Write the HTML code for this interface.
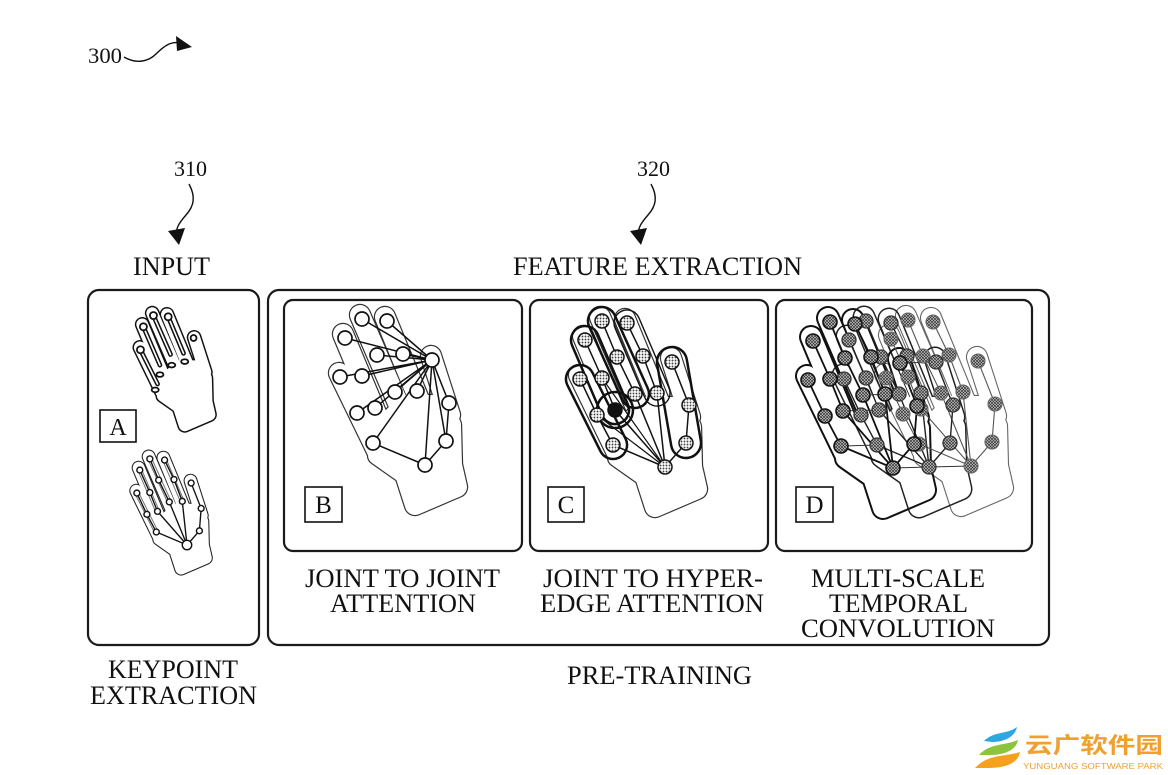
<!DOCTYPE html>
<html><head><meta charset="utf-8">
<style>
html,body{margin:0;padding:0;background:#fff;}
svg{display:block;}
text{font-family:"Liberation Serif",serif;fill:#111;}
</style></head>
<body>
<svg width="1168" height="775" viewBox="0 0 1168 775" xmlns="http://www.w3.org/2000/svg">
<defs>
  <g id="hs" stroke-linecap="round" stroke-linejoin="round">
    <polygon points="-10,40 32,22 27,0 26,-40 15,-60 -20,-60 -45,-35 -47,-10 -20,9"/>
    <line x1="25" y1="-50" x2="6" y2="-109"/>
    <line x1="-3" y1="-58" x2="-40" y2="-148"/>
    <line x1="-24" y1="-55" x2="-65" y2="-150"/>
    <line x1="-44" y1="-40" x2="-82" y2="-131"/>
    <line x1="-48" y1="-14" x2="-86" y2="-92"/>
  </g>
  <g id="nd">
    <circle cx="0" cy="0" r="7"/><circle cx="21" cy="-24" r="7"/><circle cx="24" cy="-62" r="7"/><circle cx="7" cy="-105" r="7"/>
    <circle cx="-8" cy="-74" r="7"/><circle cx="-22" cy="-111" r="7"/><circle cx="-38" cy="-144" r="7"/>
    <circle cx="-30" cy="-73" r="7"/><circle cx="-48" cy="-110" r="7"/><circle cx="-63" cy="-146" r="7"/>
    <circle cx="-50" cy="-57" r="7"/><circle cx="-63" cy="-89" r="7"/><circle cx="-80" cy="-127" r="7"/>
    <circle cx="-52" cy="-22" r="7"/><circle cx="-68" cy="-52" r="7"/><circle cx="-85" cy="-88" r="7"/>
  </g>
  <g id="ndA">
    <circle cx="0" cy="0" r="8"/><circle cx="21" cy="-24" r="5"/><circle cx="24" cy="-62" r="5"/><circle cx="7" cy="-105" r="5"/>
    <circle cx="-8" cy="-74" r="5"/><circle cx="-22" cy="-111" r="5"/><circle cx="-38" cy="-144" r="5"/>
    <circle cx="-30" cy="-73" r="5"/><circle cx="-48" cy="-110" r="5"/><circle cx="-63" cy="-146" r="5"/>
    <circle cx="-50" cy="-57" r="5"/><circle cx="-63" cy="-89" r="5"/><circle cx="-80" cy="-127" r="5"/>
    <circle cx="-52" cy="-22" r="5"/><circle cx="-68" cy="-52" r="5"/><circle cx="-85" cy="-88" r="5"/>
  </g>
  <path id="sk" fill="none" d="M0,0 L-52,-22 L-68,-52 L-85,-88 M0,0 L-50,-57 L-63,-89 L-80,-127 M0,0 L-30,-73 L-48,-110 L-63,-146 M0,0 L-8,-74 L-22,-111 L-38,-144 M0,0 L21,-24 L24,-62 L7,-105"/>
  <path id="hub" fill="none" d="M7,-105 L0,0 M7,-105 L21,-24 M7,-105 L24,-62 M7,-105 L-8,-74 M7,-105 L-22,-111 M7,-105 L-38,-144 M7,-105 L-30,-73 M7,-105 L-48,-110 M7,-105 L-63,-146 M7,-105 L-50,-57 M7,-105 L-63,-89 M7,-105 L-80,-127 M7,-105 L-52,-22 M7,-105 L-68,-52 M7,-105 L-85,-88 M0,0 L-52,-22 M0,0 L21,-24 L24,-62"/>
  <pattern id="dots" width="3" height="3" patternUnits="userSpaceOnUse">
    <rect width="3" height="3" fill="#fff"/><circle cx="1.5" cy="1.5" r="0.95" fill="#444"/>
  </pattern>
  <pattern id="hatch" width="3" height="3" patternUnits="userSpaceOnUse">
    <rect width="3" height="3" fill="#c8c8c8"/><path d="M0,0L3,3M3,0L0,3" stroke="#333" stroke-width="0.7"/>
  </pattern>
  <mask id="mA1" maskUnits="userSpaceOnUse" x="0" y="0" width="1168" height="775">
    <use href="#hs" transform="translate(190.6,401.7) scale(0.59)" stroke="#fff" fill="#fff" stroke-width="25"/>
    <use href="#hs" transform="translate(190.6,401.7) scale(0.59)" stroke="#000" fill="#000" stroke-width="20"/>
  </mask>
  <mask id="mA2" maskUnits="userSpaceOnUse" x="0" y="0" width="1168" height="775">
    <use href="#hs" transform="translate(187,545) scale(0.59)" stroke="#fff" fill="#fff" stroke-width="23.6"/>
    <use href="#hs" transform="translate(187,545) scale(0.59)" stroke="#000" fill="#000" stroke-width="20"/>
  </mask>
  <mask id="mB" maskUnits="userSpaceOnUse" x="0" y="0" width="1168" height="775">
    <use href="#hs" transform="translate(425,465)" stroke="#fff" fill="#fff" stroke-width="22.4"/>
    <use href="#hs" transform="translate(425,465)" stroke="#000" fill="#000" stroke-width="20"/>
  </mask>
  <mask id="mC" maskUnits="userSpaceOnUse" x="0" y="0" width="1168" height="775">
    <use href="#hs" transform="translate(665,467)" stroke="#fff" fill="#fff" stroke-width="22.4"/>
    <use href="#hs" transform="translate(665,467)" stroke="#000" fill="#000" stroke-width="20"/>
  </mask>
  <mask id="mD1" maskUnits="userSpaceOnUse" x="0" y="0" width="1168" height="775">
    <use href="#hs" transform="translate(893,468)" stroke="#fff" fill="#fff" stroke-width="24"/>
    <use href="#hs" transform="translate(893,468)" stroke="#000" fill="#000" stroke-width="20"/>
  </mask>
  <mask id="mD2" maskUnits="userSpaceOnUse" x="0" y="0" width="1168" height="775">
    <use href="#hs" transform="translate(929,467)" stroke="#fff" fill="#fff" stroke-width="23"/>
    <use href="#hs" transform="translate(929,467)" stroke="#000" fill="#000" stroke-width="20"/>
  </mask>
  <mask id="mD3" maskUnits="userSpaceOnUse" x="0" y="0" width="1168" height="775">
    <use href="#hs" transform="translate(971,466)" stroke="#fff" fill="#fff" stroke-width="22.2"/>
    <use href="#hs" transform="translate(971,466)" stroke="#000" fill="#000" stroke-width="20"/>
  </mask>
</defs>

<rect width="1168" height="775" fill="#fff"/>

<!-- reference labels & arrows -->
<text x="88" y="63" font-size="22" textLength="34" lengthAdjust="spacingAndGlyphs">300</text>
<path d="M124,57 C136,64 148,62 156,54 C164,46 171,41 180,43" fill="none" stroke="#111" stroke-width="1.4"/>
<polygon points="176,36 192,47 177,51" fill="#111"/>

<text x="174" y="176" font-size="22" textLength="33" lengthAdjust="spacingAndGlyphs">310</text>
<path d="M189,184 C196,197 194,206 186,215 C179,223 175,229 177,236" fill="none" stroke="#111" stroke-width="1.4"/>
<polygon points="168,231 179,245 185,228" fill="#111"/>

<text x="637" y="176" font-size="22" textLength="33" lengthAdjust="spacingAndGlyphs">320</text>
<path d="M651,184 C658,197 656,206 648,215 C641,223 637,229 639,236" fill="none" stroke="#111" stroke-width="1.4"/>
<polygon points="630,231 641,245 647,228" fill="#111"/>

<text x="133" y="275" font-size="26" textLength="77" lengthAdjust="spacingAndGlyphs">INPUT</text>
<text x="513" y="275" font-size="26" textLength="289" lengthAdjust="spacingAndGlyphs">FEATURE EXTRACTION</text>

<!-- boxes -->
<rect x="88" y="290" width="171" height="355" rx="11" fill="none" stroke="#1a1a1a" stroke-width="2.2"/>
<rect x="268" y="290" width="781" height="355" rx="11" fill="none" stroke="#1a1a1a" stroke-width="2.2"/>
<rect x="284" y="300" width="238" height="251" rx="9" fill="none" stroke="#1a1a1a" stroke-width="2.2"/>
<rect x="530" y="300" width="238" height="251" rx="9" fill="none" stroke="#1a1a1a" stroke-width="2.2"/>
<rect x="776" y="300" width="256" height="251" rx="9" fill="none" stroke="#1a1a1a" stroke-width="2.2"/>

<!-- letter boxes -->
<rect x="100" y="410" width="36" height="32" fill="none" stroke="#111" stroke-width="1.6"/>
<text x="118" y="435" font-size="24" text-anchor="middle">A</text>
<rect x="305" y="487" width="37" height="35" fill="none" stroke="#111" stroke-width="1.6"/>
<text x="323.5" y="513" font-size="25" text-anchor="middle">B</text>
<rect x="548" y="487" width="36" height="35" fill="none" stroke="#111" stroke-width="1.6"/>
<text x="566" y="513" font-size="25" text-anchor="middle">C</text>
<rect x="796" y="487" width="37" height="35" fill="none" stroke="#111" stroke-width="1.6"/>
<text x="814.5" y="513" font-size="25" text-anchor="middle">D</text>

<!-- Panel A top hand -->
<rect width="1168" height="775" fill="#111" mask="url(#mA1)"/>
<g transform="translate(190.6,401.7) scale(0.59)" stroke-linecap="round">
  <path d="M-85,-88 L-56,-30 M-80,-127 L-52,-62 M-63,-146 L-34,-80 M-38,-144 L-12,-82" stroke="#111" stroke-width="8" fill="none"/>
  <path d="M-85,-88 L-56,-30 M-80,-127 L-52,-62 M-63,-146 L-34,-80 M-38,-144 L-12,-82" stroke="#fff" stroke-width="2.8" fill="none"/>
  <g fill="#fff" stroke="#111" stroke-width="3">
    <circle cx="-85" cy="-88" r="6"/><circle cx="-80" cy="-127" r="6"/><circle cx="-63" cy="-146" r="6"/><circle cx="-38" cy="-144" r="6"/><circle cx="5" cy="-108" r="5"/>
    <ellipse cx="-60" cy="-20" rx="6" ry="4"/><ellipse cx="-52" cy="-46" rx="6" ry="4"/><ellipse cx="-32" cy="-62" rx="6" ry="4"/><ellipse cx="-10" cy="-68" rx="6" ry="4"/>
  </g>
</g>

<!-- Panel A bottom hand -->
<rect width="1168" height="775" fill="#222" mask="url(#mA2)"/>
<g transform="translate(187,545) scale(0.59)" stroke-linecap="round">
  <path d="M-85,-88 L-52,-22 M-80,-127 L-50,-57 M-63,-146 L-30,-73 M-38,-144 L-8,-74" stroke="#777" stroke-width="8" fill="none"/>
  <path d="M-85,-88 L-52,-22 M-80,-127 L-50,-57 M-63,-146 L-30,-73 M-38,-144 L-8,-74" stroke="#fff" stroke-width="4.5" fill="none"/>
  <use href="#sk" stroke="#111" stroke-width="2.3"/>
  <use href="#ndA" fill="#fff" stroke="#111" stroke-width="2.4"/>
</g>

<!-- Panel B -->
<rect width="1168" height="775" fill="#333" mask="url(#mB)"/>
<g transform="translate(425,465)">
  <use href="#hub" stroke="#111" stroke-width="1.5"/>
  <use href="#nd" fill="#fff" stroke="#111" stroke-width="1.7"/>
</g>

<!-- Panel C -->
<rect width="1168" height="775" fill="#333" mask="url(#mC)"/>
<g transform="translate(665,467)">
  <use href="#sk" stroke="#111" stroke-width="1.5"/>
  <path d="M0,0 L-68,-52 M0,0 L-63,-89" stroke="#111" stroke-width="1.2" fill="none"/>
  <g fill="none" stroke="#111" stroke-width="2.5">
    <rect x="-14" y="-14" width="101.8" height="28" rx="14" transform="translate(-85,-88) rotate(63.4)"/>
    <rect x="-14" y="-14" width="104.2" height="28" rx="14" transform="translate(-80,-127) rotate(66.8)"/>
    <rect x="-14" y="-14" width="108.1" height="28" rx="14" transform="translate(-63,-146) rotate(65.7)"/>
    <rect x="-15" y="-15" width="112.2" height="30" rx="15" transform="translate(7,-105) rotate(80.2)"/>
    <circle cx="-50" cy="-57" r="18"/>
  </g>
  <rect x="-13" y="-13" width="102.2" height="26" rx="13" transform="translate(-38,-144) rotate(66.8)" fill="none" stroke="#111" stroke-width="1.4"/>
  <use href="#nd" fill="url(#dots)" stroke="#111" stroke-width="1.5"/>
  <circle cx="-50" cy="-57" r="7.5" fill="#111"/>
</g>

<!-- Panel D -->
<rect width="1168" height="775" fill="#666" mask="url(#mD3)"/>
<rect width="1168" height="775" fill="#222" mask="url(#mD2)"/>
<rect width="1168" height="775" fill="#111" mask="url(#mD1)"/>
<g transform="translate(971,466)"><use href="#sk" stroke="#555" stroke-width="1.1"/></g>
<g transform="translate(929,467)"><use href="#sk" stroke="#222" stroke-width="1.4"/></g>
<g transform="translate(893,468)"><use href="#sk" stroke="#111" stroke-width="1.8"/></g>
<path d="M893,468 L929,467 L971,466 M843,446 L878,445 M841,411 L878,410 M863,395 L899,394 M900,363 L936,362" stroke="#333" stroke-width="1.1" fill="none"/>
<g transform="translate(971,466)"><use href="#nd" fill="url(#hatch)" stroke="#666" stroke-width="1.1"/></g>
<g transform="translate(929,467)"><use href="#nd" fill="url(#hatch)" stroke="#333" stroke-width="1.3"/></g>
<g transform="translate(893,468)"><use href="#nd" fill="url(#hatch)" stroke="#111" stroke-width="1.6"/></g>

<!-- captions -->
<text x="305" y="587" font-size="26" textLength="195" lengthAdjust="spacingAndGlyphs">JOINT TO JOINT</text>
<text x="330" y="612" font-size="26" textLength="146" lengthAdjust="spacingAndGlyphs">ATTENTION</text>
<text x="543" y="587" font-size="26" textLength="220" lengthAdjust="spacingAndGlyphs">JOINT TO HYPER-</text>
<text x="540" y="612" font-size="26" textLength="224" lengthAdjust="spacingAndGlyphs">EDGE ATTENTION</text>
<text x="811" y="587" font-size="26" textLength="174" lengthAdjust="spacingAndGlyphs">MULTI-SCALE</text>
<text x="829" y="612" font-size="26" textLength="139" lengthAdjust="spacingAndGlyphs">TEMPORAL</text>
<text x="801" y="637" font-size="26" textLength="194" lengthAdjust="spacingAndGlyphs">CONVOLUTION</text>

<text x="108" y="678" font-size="26" textLength="130" lengthAdjust="spacingAndGlyphs">KEYPOINT</text>
<text x="90" y="704" font-size="26" textLength="167" lengthAdjust="spacingAndGlyphs">EXTRACTION</text>
<text x="567" y="684" font-size="26" textLength="185" lengthAdjust="spacingAndGlyphs">PRE-TRAINING</text>

<!-- watermark -->
<path d="M984,741 C994,731 1006,735 1017,727 C1015,737 1004,742 992,742 Z" fill="#2ea6df"/>
<path d="M979,755 C990,743 1004,746 1018,740 C1016,751 1003,755 990,755 Z" fill="#8cc43e"/>
<path d="M975,768 C988,754 1004,757 1020,752 C1018,764 1004,768 988,768 Z" fill="#f5a11c"/>
<text x="1025" y="753" font-size="22" textLength="138" lengthAdjust="spacingAndGlyphs" style="font-family:'Liberation Sans','Noto Sans CJK SC',sans-serif;font-weight:bold;fill:#f0a030;">云广软件园</text>
<text x="1023" y="769" font-size="8" textLength="140" lengthAdjust="spacingAndGlyphs" style="font-family:'Liberation Sans',sans-serif;fill:#f0a030;">YUNGUANG SOFTWARE PARK</text>
</svg>
</body></html>
